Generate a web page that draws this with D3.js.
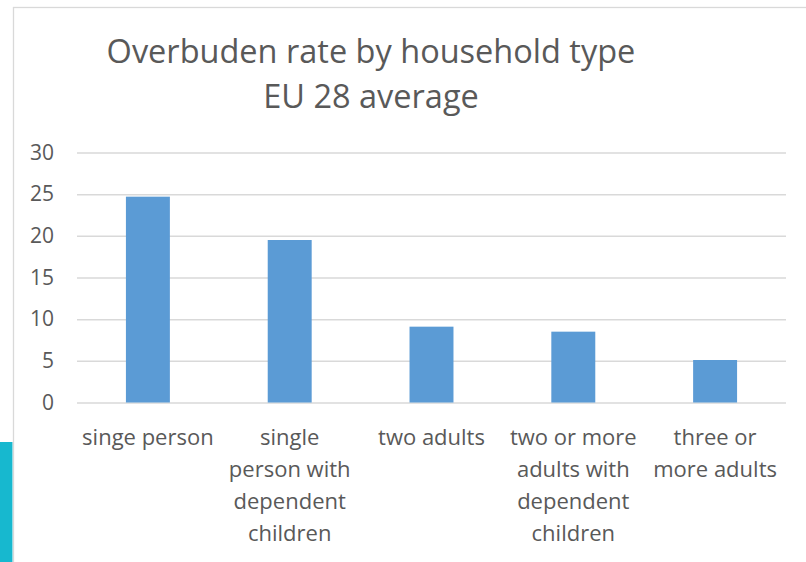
<!DOCTYPE html>
<html>
<head>
<meta charset="utf-8">
<script src="https://cdn.jsdelivr.net/npm/d3@7"></script>
<style>
  body { margin: 0; background: #fff; }
  text { font-family: "Open Sans", sans-serif; fill: #595959; }
</style>
</head>
<body>
<div id="chart"></div>
<script>
// data
var categories = ["singe person", "single person with dependent children", "two adults",
    "two or more adults with dependent children", "three or more adults"];
var categoryLines = [
    ["singe person"],
    ["single", "person with", "dependent", "children"],
    ["two adults"],
    ["two or more", "adults with", "dependent", "children"],
    ["three or", "more adults"]
];
var values = [24.7, 19.5, 9.1, 8.5, 5.1];
var yTicks = [0, 5, 10, 15, 20, 25, 30];
var titleLines = ["Overbuden rate by household type", "EU 28 average"];

var svgWidth = 806;
var svgHeight = 562;

var margin = { top: 152.5, right: 20, bottom: 159.5, left: 77 };
var width = 786 - margin.left;
var height = 402.5 - margin.top;

var svg = d3.select("#chart")
    .append("svg")
    .attr("width", svgWidth)
    .attr("height", svgHeight);

// cyan strip at bottom left (slide background)
svg.append("rect")
    .attr("x", 0).attr("y", 442)
    .attr("width", 12.5).attr("height", 120)
    .attr("fill", "#17b8cf");

// chart border
svg.append("rect")
    .attr("x", 13.5).attr("y", 7.5)
    .attr("width", 820).attr("height", 600)
    .attr("fill", "#fff")
    .attr("stroke", "#d9d9d9")
    .attr("stroke-width", 1.3);

// title
svg.append("text")
    .attr("x", 371)
    .attr("text-anchor", "middle")
    .attr("font-size", "32.5px")
    .selectAll("tspan")
    .data(titleLines)
    .enter()
    .append("tspan")
    .attr("x", 371)
    .attr("y", (d, i) => 63 + i * 45)
    .text(d => d);

var chartGroup = svg.append("g")
    .attr("transform", `translate(${margin.left}, ${margin.top})`);

var xScale = d3.scaleBand()
    .domain(categories)
    .range([0, width])
    .paddingInner(0.69)
    .paddingOuter(0.345);

var yScale = d3.scaleLinear()
    .domain([0, 30])
    .range([height, 0]);

// gridlines
var leftAxis = d3.axisLeft(yScale)
    .tickValues(yTicks)
    .tickSize(-width)
    .tickPadding(23)
    .tickFormat(d3.format("d"));

var yAxis = chartGroup.append("g").call(leftAxis);
yAxis.select(".domain").remove();
yAxis.selectAll(".tick line")
    .attr("stroke", "#d9d9d9")
    .attr("stroke-width", 1.5);
yAxis.selectAll(".tick text")
    .attr("font-size", "21px")
    .attr("font-family", "'Open Sans', sans-serif")
    .attr("fill", "#595959");

// bars
chartGroup.selectAll("rect.bar")
    .data(values)
    .enter()
    .append("rect")
    .attr("class", "bar")
    .attr("x", (d, i) => xScale(categories[i]))
    .attr("y", d => yScale(d))
    .attr("width", xScale.bandwidth())
    .attr("height", d => height - yScale(d))
    .attr("fill", "#5b9bd5");

// category labels
var labels = chartGroup.selectAll("text.cat")
    .data(categoryLines)
    .enter()
    .append("text")
    .attr("class", "cat")
    .attr("text-anchor", "middle")
    .attr("font-size", "22px");

labels.selectAll("tspan")
    .data((d, i) => d.map(line => ({ line: line, i: i })))
    .enter()
    .append("tspan")
    .attr("x", d => xScale(categories[d.i]) + xScale.bandwidth() / 2)
    .attr("y", (d, j) => height + 42.5 + j * 32)
    .text(d => d.line);
</script>
</body>
</html>
